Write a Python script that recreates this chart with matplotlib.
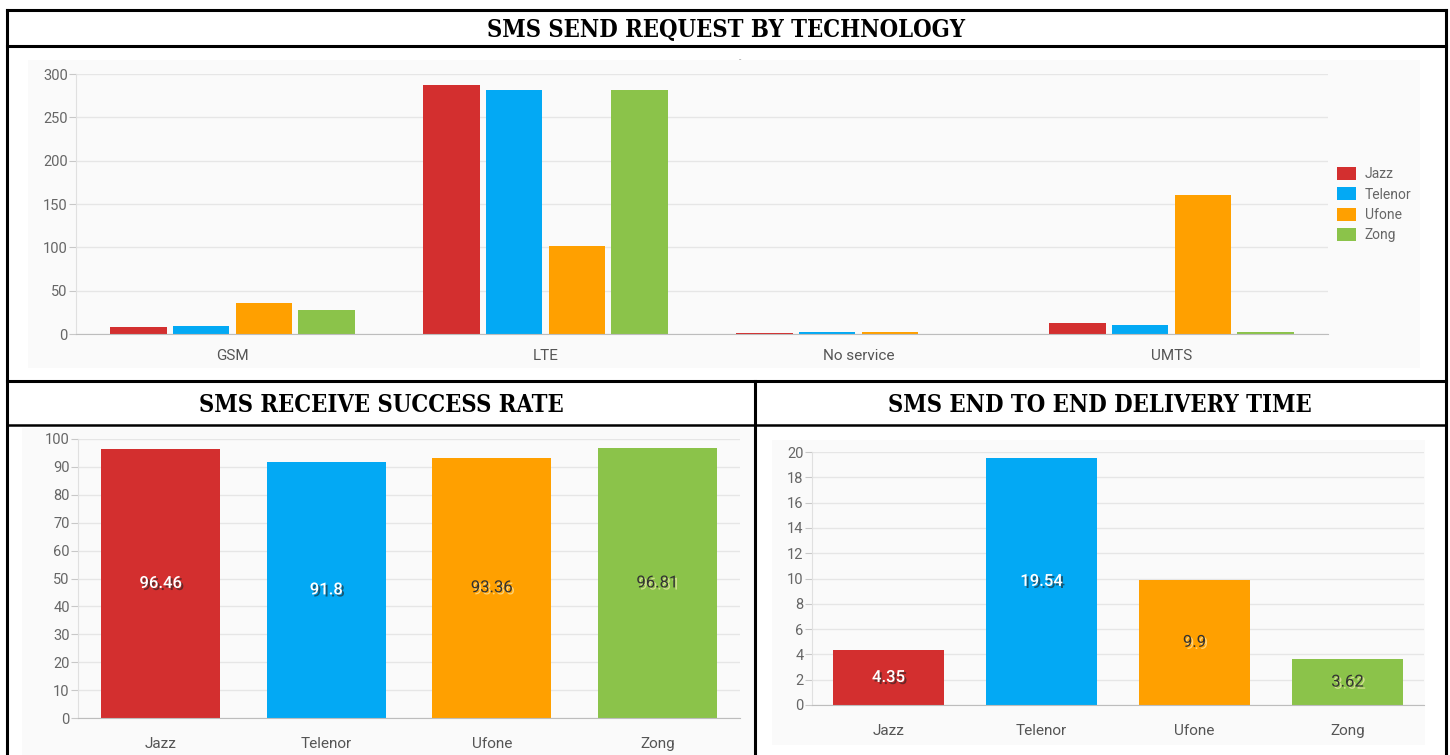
import matplotlib
matplotlib.use("Agg")
from matplotlib import pyplot as plt
from matplotlib.patches import Rectangle
from matplotlib.lines import Line2D
import matplotlib.patheffects as pe

W, H = 1450, 755

operators = ["Jazz", "Telenor", "Ufone", "Zong"]
colors = ["#d32f2f", "#03a9f4", "#ffa000", "#8bc34a"]

technologies = ["GSM", "LTE", "No service", "UMTS"]
send_jazz = [8, 287, 1, 13]
send_telenor = [9, 281, 2, 10]
send_ufone = [36, 102, 2, 160]
send_zong = [28, 282, 0, 2]

receive_rate = [96.46, 91.8, 93.36, 96.81]
delivery_time = [4.35, 19.54, 9.9, 3.62]

plt.rcParams['font.family'] = ['Roboto', 'DejaVu Sans']

fig = plt.figure(figsize=(W / 100, H / 100), dpi=100)


def rect(x0, y0, x1, y1):
	return [x0 / W, 1 - y1 / H, (x1 - x0) / W, (y1 - y0) / H]


def fline(x0, y0, x1, y1, lw=2.2):
	fig.add_artist(Line2D([x0 / W, x1 / W], [1 - y0 / H, 1 - y1 / H], color="black", lw=lw))


def panel(x0, y0, x1, y1):
	fig.add_artist(Rectangle((x0 / W, 1 - y1 / H), (x1 - x0) / W, (y1 - y0) / H,
		transform=fig.transFigure, facecolor="#fafafa", edgecolor="none", zorder=0))


def style(ax, ymax, step, xpad):
	ax.set_facecolor("none")
	ax.set_ylim(0, ymax)
	ax.set_xlim(-0.5, 3.5)
	ax.set_yticks(range(0, ymax + 1, step))
	ax.grid(axis="y", color="#e6e6e6", lw=1)
	ax.set_axisbelow(True)
	for s in ["top", "right"]:
		ax.spines[s].set_visible(False)
	ax.spines["left"].set_color("#e0e0e0")
	ax.spines["bottom"].set_color("#bdbdbd")
	ax.tick_params(axis="y", colors="#c8c8c8", labelcolor="#666666", labelsize=10.5, length=5, pad=1)
	ax.tick_params(axis="x", length=0, labelcolor="#555555", labelsize=11, pad=xpad)


# panels
panel(28, 60, 1420, 368)
panel(22, 428, 755, 755)
panel(772, 440, 1425, 745)

# top chart
ax1 = fig.add_axes(rect(76, 74, 1328, 334))
series = [send_jazz, send_telenor, send_ufone, send_zong]
offsets = [-0.3, -0.1, 0.1, 0.3]
for vals, off, c, name in zip(series, offsets, colors, operators):
	ax1.bar([i + off for i in range(len(technologies))], vals, width=0.18, color=c, label=name)
ax1.set_xticks(range(len(technologies)))
ax1.set_xticklabels(technologies)
style(ax1, 300, 50, 11)
ax1.text(0.53, 1.045, "-", transform=ax1.transAxes, fontsize=6, color="#888888", ha="center")
fig.legend(loc="upper left", bbox_to_anchor=(1330 / W, 1 - 160 / H), frameon=False,
	fontsize=10, labelcolor="#666666", handlelength=1.4, handleheight=1.05,
	handletextpad=0.6, labelspacing=0.45, borderpad=0)


def value_chart(ax, vals, ymax, step):
	bars = ax.bar(range(len(operators)), vals, width=0.72, color=colors)
	ax.set_xticks(range(len(operators)))
	ax.set_xticklabels(operators)
	style(ax, ymax, step, 14)
	for i, (b, v) in enumerate(zip(bars, vals)):
		if i < 2:
			fc, sc, fw = "white", "#222222", "medium"
		else:
			fc, sc, fw = "#333333", "#fff3c0", "normal"
		ax.text(b.get_x() + b.get_width() / 2, v / 2, str(v), ha="center", va="center",
			fontsize=12, fontweight=fw, color=fc,
			path_effects=[pe.SimplePatchShadow(offset=(1.5, -1.5), shadow_rgbFace=sc, alpha=0.6), pe.Normal()])


ax2 = fig.add_axes(rect(78, 439, 740, 718))
value_chart(ax2, receive_rate, 100, 10)

ax3 = fig.add_axes(rect(812, 452, 1424, 705))
value_chart(ax3, delivery_time, 20, 2)

# table borders
fline(7, 10, 1446, 10)
fline(7, 10, 7, 755)
fline(1446, 10, 1446, 755)
fline(7, 46, 1446, 46)
fline(7, 381, 1446, 381)
fline(7, 425, 1446, 425, lw=1.8)
fline(755, 381, 755, 755)

tfont = dict(family="DejaVu Serif", stretch="condensed", fontweight="bold", fontsize=17,
	color="black", ha="center", va="center")
fig.text(726 / W, 1 - 30 / H, "SMS SEND REQUEST BY TECHNOLOGY", **tfont)
fig.text(381 / W, 1 - 405 / H, "SMS RECEIVE SUCCESS RATE", **tfont)
fig.text(1100 / W, 1 - 405 / H, "SMS END TO END DELIVERY TIME", **tfont)

fig.savefig("out.png", dpi=100, facecolor="white")
